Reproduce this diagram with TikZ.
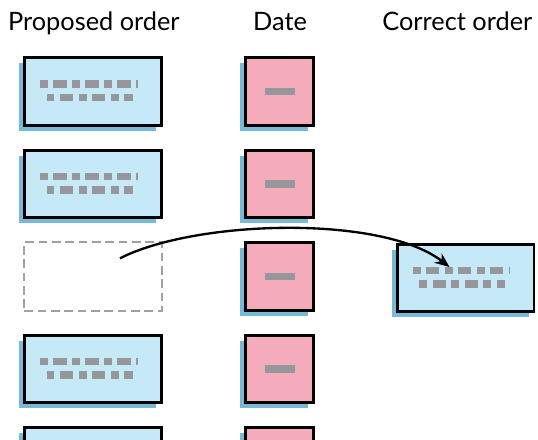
\documentclass[tikz,border=0pt]{standalone}
\usepackage{fontspec}
\setmainfont{Lato}
\usetikzlibrary{arrows.meta,shadows}
\definecolor{cardblue}{HTML}{C6E9F8}
\definecolor{shadeblue}{HTML}{77B9D7}
\definecolor{datepink}{HTML}{F4ABBA}
\definecolor{inkgray}{HTML}{97979B}
\definecolor{ghostgray}{HTML}{A0A0A4}
\tikzset{
  greek/.pic={
    \foreach \a/\b in {-52.7/-44.8,-39.6/-26.5,-20.7/-12.8,-7.6/5.8,11.3/18.9,24.4/37.8,43.3/44.7}
      \fill[inkgray] (\a,-11.5) rectangle (\b,-3.8);
    \foreach \a/\b in {-46.5/-38.6,-32.7/-19.7,-14.5/-6.3,-1.1/12.3,17.8/25.7,31.2/39.5}
      \fill[inkgray] (\a,2) rectangle (\b,9.7);
  },
  datedash/.pic={
    \fill[inkgray] (-15.2,-3.9) rectangle (15.2,3.9);
  }
}

\begin{document}
\begin{tikzpicture}[
  x=0.75pt,y=-0.75pt,
  card/.style={rectangle,draw=black,line width=2pt,fill=cardblue,minimum width=102.6pt,minimum height=50.6pt,
    drop shadow={shadow xshift=-4pt,shadow yshift=-4pt,fill=shadeblue,opacity=1}},
  datebox/.style={card,fill=datepink,minimum width=51.1pt},
  ghost/.style={rectangle,draw=ghostgray,line width=1.5pt,dash pattern=on 6.5pt off 3.5pt,minimum width=102.8pt,minimum height=51.5pt},
  head/.style={font=\fontsize{19}{21}\selectfont,anchor=base},
  move/.style={-{Stealth[length=11pt,width=9pt]},line width=1.75pt}
]
  \clip (0,0) rectangle (538,439);

  \node[head] (hprop) at (93.9,30.9) {Proposed order};
  \node[head] (hdate) at (280,30.9) {Date};
  \node[head,anchor=base east] (hcorr) at (537,30.9) {Correct order};

  \node[card] (p1) at (93,91.5) {};
  \node[card] (p2) at (93,184) {};
  \node[ghost] (p3) at (93,276.5) {};
  \node[card] (p4) at (93,369) {};
  \node[card] (p5) at (93,461.5) {};
  \pic at (p1) {greek};
  \pic at (p2) {greek};
  \pic at (p4) {greek};
  \pic at (p5) {greek};

  \node[datebox] (d1) at (279.7,91.5) {};
  \node[datebox] (d2) at (279.7,184) {};
  \node[datebox] (d3) at (279.7,276.5) {};
  \node[datebox] (d4) at (279.7,369) {};
  \node[datebox] (d5) at (279.7,461.5) {};
  \pic at (d1) {datedash};
  \pic at (d2) {datedash};
  \pic at (d3) {datedash};
  \pic at (d4) {datedash};
  \pic at (d5) {datedash};

  \node[card] (c3) at (465.6,278) {};
  \pic at (c3) {greek};

  \draw[move] ([xshift=20.25pt,yshift=13.65pt]p3.center) to[out=27,in=142,looseness=0.66] ([xshift=-12.1pt,yshift=8.25pt]c3.center);
\end{tikzpicture}
\end{document}
